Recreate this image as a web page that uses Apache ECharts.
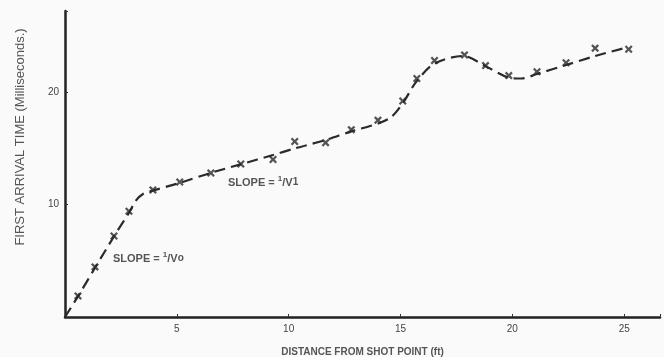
<!DOCTYPE html>
<html>
<head>
<meta charset="utf-8">
<script src="https://cdn.jsdelivr.net/npm/echarts@6/dist/echarts.min.js"></script>
<style>
  html, body { margin: 0; padding: 0; background: #fafafa; }
  #chart { width: 664px; height: 357px; }
</style>
</head>
<body>
<div id="chart"></div>
<script>
// measured points (x marks): distance (ft) / first arrival time (ms)
var distance = [0.58, 1.34, 2.19, 2.86, 3.93, 5.13, 6.52, 7.86, 9.3, 10.27, 11.65, 12.8, 13.99, 15.1, 15.73, 16.52, 17.86, 18.8, 19.84, 21.1, 22.4, 23.7, 25.2]
var arrival = [1.87, 4.45, 7.2, 9.4, 11.3, 12.0, 12.8, 13.6, 14.0, 15.6, 15.5, 16.65, 17.5, 19.2, 21.2, 22.8, 23.3, 22.35, 21.46, 21.8, 22.6, 23.9, 23.8]

// hand drawn fitted curve
var curveX = [0, 0.6, 1.35, 2.2, 2.9, 3.15, 3.5, 3.95, 5.1, 6.5, 7.9, 9.3, 10.3, 11.6, 12.8, 14.0, 14.6, 15.1, 15.7, 16.5, 17.8, 18.8, 19.8, 20.4, 21.1, 22.4, 23.7, 25.0]
var curveY = [0, 1.9, 4.4, 7.2, 9.4, 10.3, 10.95, 11.25, 11.9, 12.8, 13.6, 14.4, 15.0, 15.7, 16.5, 17.2, 17.8, 19.0, 20.9, 22.5, 23.2, 22.3, 21.3, 21.2, 21.6, 22.4, 23.2, 23.9]

var xTicks = [5, 10, 15, 20, 25]
var yTicks = [10, 20]

var chart = echarts.init(document.getElementById('chart'))

// "x" mark drawn as a filled path
var cross = 'path://M0,2L2,0L5,3L8,0L10,2L7,5L10,8L8,10L5,7L2,10L0,8L3,5Z'

var slopeRich = {
  sup: { fontSize: 8, fontWeight: 'bold', verticalAlign: 'top', padding: [0, 0, 7, 0], fill: '#555' },
  sub: { fontSize: 10, fontWeight: 'bold', fill: '#555' }
}

chart.setOption({
  backgroundColor: '#fafafa',
  animation: false,
  grid: { left: 65, right: 4, top: 11, bottom: 40, outerBoundsMode: 'none', containLabel: false },
  xAxis: {
    type: 'value',
    min: 0,
    max: 26.6,
    interval: 5,
    name: 'DISTANCE FROM SHOT POINT (ft)',
    nameLocation: 'middle',
    nameGap: 30,
    nameTextStyle: { color: '#555', fontSize: 10, fontWeight: 'bold', fontFamily: 'Liberation Sans' },
    splitLine: { show: false },
    axisLine: { lineStyle: { color: '#222', width: 2.5 } },
    axisTick: { inside: true, length: 3, lineStyle: { color: '#333' } },
    axisLabel: {
      color: '#444', fontSize: 10, fontFamily: 'Liberation Sans', margin: 7,
      formatter: function (v) { return xTicks.indexOf(v) >= 0 ? String(v) : '' }
    }
  },
  yAxis: {
    type: 'value',
    min: 0,
    max: 27.2,
    interval: 10,
    splitLine: { show: false },
    axisLine: { lineStyle: { color: '#222', width: 2.5 } },
    axisTick: { inside: true, length: 3, lineStyle: { color: '#333' } },
    axisLabel: {
      color: '#444', fontSize: 10, fontFamily: 'Liberation Sans', margin: 6,
      formatter: function (v) { return yTicks.indexOf(v) >= 0 ? String(v) : '' }
    }
  },
  series: [
    {
      type: 'line',
      data: curveX.map(function (x, i) { return [x, curveY[i]] }),
      smooth: 0.3,
      showSymbol: false,
      lineStyle: { color: '#2a2a2a', width: 2.2, type: [11, 6] },
      z: 2
    },
    {
      type: 'scatter',
      data: distance.map(function (x, i) { return [x, arrival[i]] }),
      symbol: cross,
      symbolSize: 8,
      itemStyle: { color: '#2a2a2a' },
      z: 3
    }
  ],
  graphic: [
    {
      // y axis title sits above the axis middle in the original
      type: 'text', x: 20, y: 137, rotation: Math.PI / 2,
      style: {
        text: 'FIRST ARRIVAL TIME (Milliseconds.)',
        fill: '#555', font: '13px "Liberation Sans"',
        align: 'center', verticalAlign: 'middle'
      }
    },
    {
      type: 'text', left: 113, top: 251,
      style: {
        text: 'SLOPE = {sup|1}/V{sub|o}',
        fill: '#555', font: 'bold 11px "Liberation Sans"',
        rich: slopeRich
      }
    },
    {
      type: 'text', left: 228, top: 175,
      style: {
        text: 'SLOPE = {sup|1}/V{sub|1}',
        fill: '#555', font: 'bold 11px "Liberation Sans"',
        rich: slopeRich
      }
    }
  ]
})
</script>
</body>
</html>
